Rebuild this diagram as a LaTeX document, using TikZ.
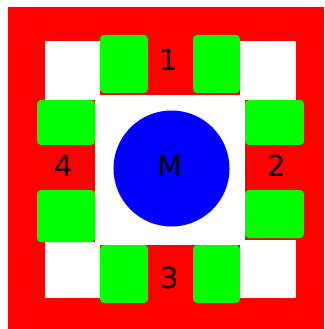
\documentclass[tikz,border=0pt]{standalone}
\usepackage{fontspec}
\setmainfont{DejaVu Sans}

\begin{document}
\begin{tikzpicture}[x=1pt,y=-1pt,pad/.style={fill=green,rounded corners=4pt},lbl/.style={font=\fontsize{29}{30}\selectfont,inner sep=0pt}]
  \useasboundingbox (0,0) rectangle (324,329);
  \fill[red] (8,7) rectangle (324,329); \fill[white] (45,41) rectangle (296,298);
  \fill[red] (100,41) rectangle (240,95); \fill[red] (100,245) rectangle (240,298);
  \fill[red] (45,100) rectangle (95,242); \fill[red] (245,100) rectangle (296,240);
  \fill[pad] (100,35) rectangle (148,93); \fill[pad] (193,35) rectangle (240,93);
  \fill[pad] (100,245) rectangle (148,303); \fill[pad] (193,245) rectangle (240,303);
  \fill[pad] (37,100) rectangle (95,145); \fill[pad] (37,190) rectangle (95,242);
  \fill[pad] (245,100) rectangle (304,145); \fill[pad] (245,190) rectangle (304,238);
  \fill[blue] (171.5,168.5) circle (58pt);
  \node[lbl] (top) at (169,59.5) {1}; \node[lbl] (right) at (276.5,166) {2};
  \node[lbl] (bottom) at (170,278) {3}; \node[lbl] (left) at (63.5,166) {4};
  \node[lbl] (motor) at (170,166) {M};
\end{tikzpicture}
\end{document}
